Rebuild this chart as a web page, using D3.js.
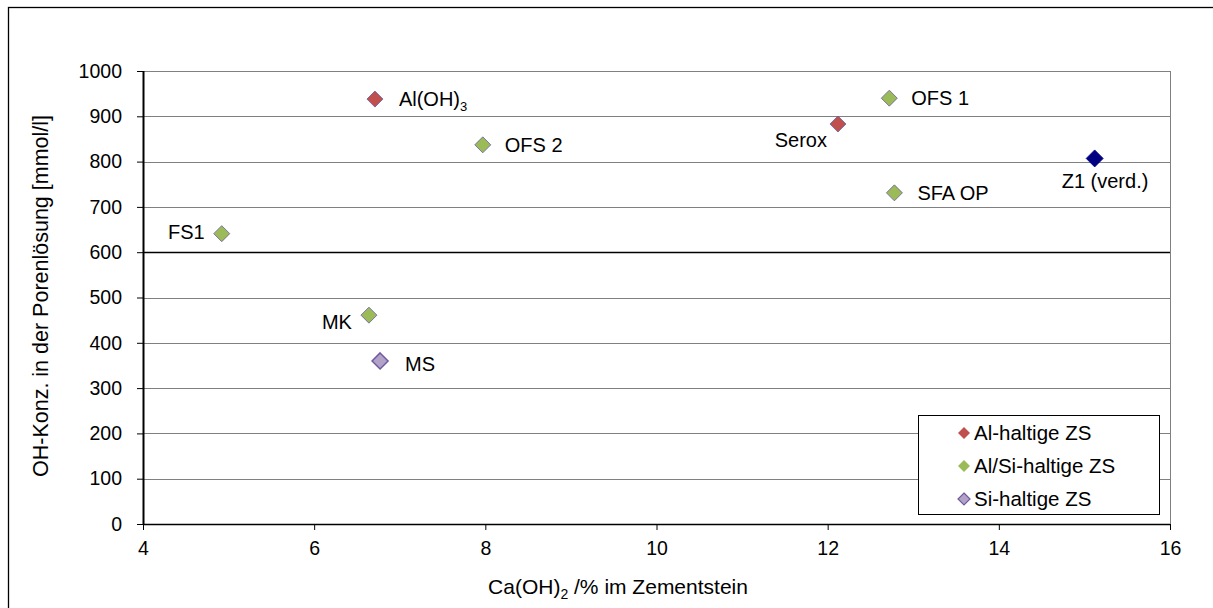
<!DOCTYPE html>
<html>
<head>
<meta charset="utf-8">
<script src="https://cdn.jsdelivr.net/npm/d3@7/dist/d3.min.js"></script>
<style>
  html, body { margin: 0; padding: 0; background: #fff; }
  svg { display: block; font-family: "Liberation Sans", Arial, sans-serif; }
</style>
</head>
<body>
<svg id="chart" width="1213" height="608"></svg>
<script>
// ---- data ----
const pointNames = ["Al(OH)3", "OFS 2", "Serox", "OFS 1", "SFA OP", "Z1 (verd.)", "FS1", "MK", "MS"];
const caOH2Values = [6.71, 7.97, 12.12, 12.72, 12.78, 15.12, 4.92, 6.64, 6.77];
const ohConcValues = [938, 837, 883, 940, 731, 807, 641, 461, 360];
const pointGroups = ["Al", "AlSi", "Al", "AlSi", "AlSi", "Ref", "AlSi", "AlSi", "Si"];
const legendLabels = ["Al-haltige ZS", "Al/Si-haltige ZS", "Si-haltige ZS"];
const legendGroups = ["Al", "AlSi", "Si"];
const xTicks = [4, 6, 8, 10, 12, 14, 16];
const yTicks = [0, 100, 200, 300, 400, 500, 600, 700, 800, 900, 1000];

(function () {
// ---- styles ----
const groupFill = { Al: "#C0504D", AlSi: "#9BBB59", Si: "#B3A2C7", Ref: "#000080" };
const groupStroke = { Al: "#6A5A9A", AlSi: "#6A5A9A", Si: "#7059A0", Ref: "#000080" };
// label placement: dx, dy relative to point, anchor
const labelPlacement = {
  "Al(OH)3": [24, 0, "start"],
  "OFS 2": [22, 0, "start"],
  "Serox": [-11, 16, "end"],
  "OFS 1": [22, 0, "start"],
  "SFA OP": [23, 0, "start"],
  "Z1 (verd.)": [-33, 22, "start"],
  "FS1": [-17, -2, "end"],
  "MK": [-17, 7, "end"],
  "MS": [25, 3, "start"]
};

const svg = d3.select("#chart");
const tickFont = 19.5, labelFont = 20, legendFont = 20.5, titleFont = 21;

// outer border
svg.append("rect").attr("x", 8.5).attr("y", 7.5).attr("width", 1210).attr("height", 610)
  .attr("fill", "#fff").attr("stroke", "#000").attr("stroke-width", 1.3);

const pLeft = 143, pRight = 1170, pTop = 71, pBottom = 524;
const x = d3.scaleLinear().domain([4, 16]).range([pLeft, pRight]);
const y = d3.scaleLinear().domain([0, 1000]).range([pBottom, pTop]);

// gridlines
const grid = svg.append("g");
yTicks.filter(v => v > 0).forEach(v => {
  grid.append("line").attr("x1", pLeft).attr("x2", pRight)
    .attr("y1", Math.round(y(v)) + 0.5).attr("y2", Math.round(y(v)) + 0.5)
    .attr("stroke", v === 600 ? "#000" : "#808080").attr("stroke-width", v === 600 ? 1.3 : 1);
});
// right border of plot area
svg.append("line").attr("x1", pRight + 0.5).attr("x2", pRight + 0.5).attr("y1", pTop).attr("y2", pBottom)
  .attr("stroke", "#808080").attr("stroke-width", 1);

// axes
const xAxis = d3.axisBottom(x).tickValues(xTicks).tickSize(6).tickPadding(11).tickFormat(d3.format("d"));
const gx = svg.append("g").attr("transform", `translate(0,${pBottom})`).call(xAxis);
gx.select(".domain").attr("stroke", "#000").attr("stroke-width", 1.5).attr("d", `M${pLeft},0.5H${pRight}`);
gx.selectAll(".tick line").attr("stroke", "#000");
gx.selectAll(".tick text").attr("font-size", tickFont).attr("font-family", "Liberation Sans, Arial, sans-serif").attr("fill", "#000");

const yAxis = d3.axisLeft(y).tickValues(yTicks).tickSize(6).tickPadding(15).tickFormat(d3.format("d"));
const gy = svg.append("g").attr("transform", `translate(${pLeft},0)`).call(yAxis);
gy.select(".domain").attr("stroke", "#000").attr("stroke-width", 2).attr("d", `M0.5,${pTop}V${pBottom}`);
gy.selectAll(".tick line").attr("stroke", "#000");
gy.selectAll(".tick text").attr("font-size", tickFont).attr("font-family", "Liberation Sans, Arial, sans-serif").attr("fill", "#000");

// axis titles
const xt = svg.append("text").attr("x", 618).attr("y", 594).attr("text-anchor", "middle")
  .attr("font-size", titleFont).attr("fill", "#000");
xt.append("tspan").text("Ca(OH)");
xt.append("tspan").attr("font-size", 14).attr("dy", 5).text("2");
xt.append("tspan").attr("dy", -5).text(" /% im Zementstein");

svg.append("text").attr("transform", `translate(48,296) rotate(-90)`).attr("text-anchor", "middle")
  .attr("font-size", 21.5).attr("fill", "#000").text("OH-Konz. in der Porenlösung [mmol/l]");

// diamond path
const diamond = (r) => `M0,${-r}L${r},0L0,${r}L${-r},0Z`;

// points
const pts = pointNames.map((n, i) => ({ name: n, xv: caOH2Values[i], yv: ohConcValues[i], g: pointGroups[i] }));
const pg = svg.append("g");
pg.selectAll("path").data(pts).enter().append("path")
  .attr("transform", d => `translate(${x(d.xv)},${y(d.yv)})`)
  .attr("d", d => diamond(d.g === "Ref" ? 8.5 : 8))
  .attr("fill", d => groupFill[d.g])
  .attr("stroke", d => groupStroke[d.g])
  .attr("stroke-width", d => d.g === "Si" ? 1.5 : 0.8);

// labels
pts.forEach(d => {
  const p = labelPlacement[d.name];
  const t = pg.append("text").attr("x", x(d.xv) + p[0]).attr("y", y(d.yv) + p[1])
    .attr("dy", "0.36em").attr("text-anchor", p[2]).attr("font-size", labelFont).attr("fill", "#000");
  if (d.name === "Al(OH)3") {
    t.append("tspan").text("Al(OH)");
    t.append("tspan").attr("font-size", 13).attr("dy", 5).text("3");
  } else {
    t.text(d.name);
  }
});

// legend
const lg = svg.append("g");
lg.append("rect").attr("x", 918.5).attr("y", 415.5).attr("width", 241).attr("height", 99)
  .attr("fill", "#fff").attr("stroke", "#000").attr("stroke-width", 1);
legendLabels.forEach((lab, i) => {
  const yy = 433 + i * 33;
  const g = legendGroups[i];
  lg.append("path").attr("transform", `translate(964,${yy})`).attr("d", diamond(6))
    .attr("fill", groupFill[g]).attr("stroke", g === "Si" ? groupStroke[g] : "none").attr("stroke-width", 1.2);
  lg.append("text").attr("x", 974).attr("y", yy).attr("dy", "0.36em")
    .attr("font-size", legendFont).attr("fill", "#000").text(lab);
});
})();
</script>
</body>
</html>
